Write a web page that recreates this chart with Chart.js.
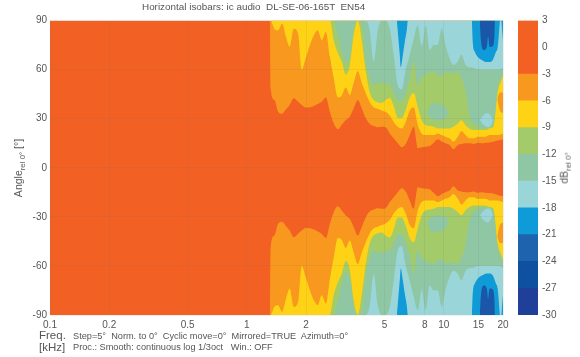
<!DOCTYPE html>
<html lang="en">
<head>
<meta charset="UTF-8">
<title>Horizontal isobars</title>
<script src="https://cdn.jsdelivr.net/npm/chart.js"></script>
<style>
  body { margin: 0; background: #fff; font-family: "Liberation Sans", Arial, sans-serif; color: #555; }
  #wrap { position: relative; width: 580px; height: 357px; overflow: hidden; }
  canvas { position: absolute; top: 0; filter: blur(0.5px); }
  #isobars { left: 0; }
  #colorbar { left: 510px; }
  .txt { position: absolute; white-space: pre; line-height: 1; }
  .rot { transform: translate(-50%, -50%) rotate(-90deg); }
  sub { font-size: 75%; vertical-align: -3px; line-height: 0; }
</style>
</head>
<body>
<div id="wrap">
  <canvas id="isobars" width="580" height="357"></canvas>
  <canvas id="colorbar" width="70" height="357"></canvas>
  <div class="txt" style="left:142px;top:2px;font-size:9.9px">Horizontal isobars: ic audio  DL-SE-06-165T  EN54</div>
  <div class="txt rot" style="left:18px;top:168px;font-size:10.5px">Angle<sub>rel 0°</sub> [°]</div>
  <div class="txt rot" style="left:564px;top:168px;font-size:10.5px">dB<sub>rel 0°</sub></div>
  <div class="txt" style="left:39px;top:330px;font-size:11.5px">Freq.</div>
  <div class="txt" style="left:39px;top:342px;font-size:11.5px">[kHz]</div>
  <div class="txt" style="left:73px;top:332px;font-size:9.2px">Step=5°  Norm. to 0°  Cyclic move=0°  Mirrored=TRUE  Azimuth=0°</div>
  <div class="txt" style="left:73px;top:343px;font-size:9.2px">Proc.: Smooth: continuous log 1/3oct   Win.: OFF</div>
</div>

<script>
  // tick labels
  const freqTicks = [0.1, 0.2, 0.5, 1, 2, 5, 8, 10, 15, 20];
  const levels = [-30, -27, -24, -21, -18, -15, -12, -9, -6, -3, 3];
  const bandColors = ["#1F3F98", "#1050A0", "#1E63AE", "#0F9BD7", "#9AD5DA", "#8FC7A5", "#A3CB6A", "#FFD315", "#F8981F", "#F26024"];

  // kHz, the contour edges below are read at these frequencies
  const freqs = [
    1.31, 1.32, 1.38, 1.44, 1.51, 1.58, 1.65, 1.73, 1.82, 1.90,
    1.99, 2.09, 2.19, 2.29, 2.40, 2.52, 2.64, 2.76, 2.90, 3.03,
    3.18, 3.33, 3.49, 3.66, 3.83, 4.02, 4.21, 4.41, 4.62, 4.84,
    5.07, 5.32, 5.57, 5.84, 6.12, 6.41, 6.72, 7.04, 7.38, 7.73,
    8.10, 8.49, 8.89, 9.32, 9.77, 10.2, 10.7, 11.2, 11.8, 12.3,
    12.9, 13.5, 14.2, 14.9, 15.6, 16.3, 17.1, 17.9, 18.8, 20
  ];

  // angle where each level starts (90 = not reached at that frequency)
  const edge3 = [
    90, 48.6, 41.4, 34.3, 33, 35.7, 38.4, 42.5, 40.4, 38.4,
    36.8, 37, 37.8, 39, 40.4, 43, 34.3, 27.2, 23.5, 26.1,
    29.2, 31.2, 36.3, 41.4, 36.3, 30.2, 26.8, 25.5, 24.7, 25.1,
    24.7, 21, 18, 14.9, 12.5, 14.5, 20, 25.1, 11.9, 12.5,
    12.9, 13.3, 15.3, 17.4, 16, 14.9, 13.9, 11.3, 13.9, 14.5,
    14.9, 14.9, 14.5, 15.3, 14.9, 15.3, 15.5, 15.9, 16.6, 17.4
  ];
  const edge6 = [
    90, 90, 85, 84, 88, 80, 74, 85, 82, 60,
    67, 75, 81, 84, 78, 83, 68, 55, 43, 44,
    49, 44.5, 52, 59, 52, 45.5, 40, 37, 36, 35,
    34, 32, 28, 25, 24, 28, 35, 37, 26, 21,
    20, 20, 20, 21, 20, 19, 18, 16, 19, 22.5,
    20, 18, 18, 19, 19, 19, 20, 20, 20, 21
  ];
  const edge9 = [
    90, 90, 90, 90, 90, 90, 90, 90, 90, 90,
    90, 90, 90, 90, 90, 90, 90, 78, 70, 65,
    57, 62, 81, 90, 78, 58.5, 46, 41.4, 40, 39.5,
    41.4, 42.6, 37.7, 30.4, 30.4, 35.3, 43, 45.7, 37, 29,
    26, 25.5, 25, 24, 24, 24, 24, 25, 27, 29,
    26, 24, 23, 23, 23, 23, 24, 25, 46, 56
  ];
  const edge12 = [
    90, 90, 90, 90, 90, 90, 90, 90, 90, 90,
    90, 90, 90, 90, 90, 90, 90, 90, 81, 72,
    64, 68, 85, 90, 88, 66, 55, 50.6, 52, 52,
    51, 51, 46, 41, 41, 46, 53.6, 64.6, 50.6, 55,
    57, 58.5, 58.5, 57, 56, 58.5, 58, 58, 58.5, 55,
    47.5, 32, 26.7, 25.5, 24.3, 24.3, 25, 27, 49, 58
  ];
  const edge15 = [
    90, 90, 90, 90, 90, 90, 90, 90, 90, 90,
    90, 90, 90, 90, 90, 90, 90, 90, 90, 90,
    90, 90, 90, 90, 90, 90, 84, 65, 84, 90,
    90, 85, 69, 50.6, 48, 60, 69, 79, 87, 74.5,
    87, 72, 75, 75, 85, 75, 67, 63, 65, 69,
    63, 61.5, 61, 60, 60, 60, 60, 60, 60, 61
  ];

  // patches that reach the top edge, [freq, angle]
  const blueAFreqs = [5.78, 5.88, 5.98, 6.05, 6.20, 6.34, 6.49, 6.57];
  const blueAEdge = [90, 79.3, 68.9, 61.6, 68.9, 76.9, 84.2, 90];
  const blueBFreqs = [13.9, 14.05, 14.4, 14.9, 15.6, 16.55, 17.1, 17.75, 18.4, 18.8, 19.3];
  const blueBEdge = [90, 76.2, 70.7, 67.7, 65.9, 64.6, 64.6, 65.9, 70.7, 73.8, 90];
  const blueCFreqs = [19.6, 20];
  const blueCEdge = [90, 78];
  const darkFreqs = [15.25, 15.45, 15.98, 16.55, 16.8, 17.1, 17.75, 18.1, 18.2];
  const darkEdge = [90, 78, 72, 73.8, 80, 73.8, 74.4, 81.1, 90];

  // closed patches, upper and lower edge
  const tealFreqs = [8.2, 8.6, 9.12, 9.66, 10.25, 10.6];
  const tealUpper = [33.5, 38.4, 39.6, 39, 36.5, 33.5];
  const tealLower = [33.5, 30.4, 29.2, 29.2, 30.4, 33.5];
  const cyanFreqs = [15.25, 15.98, 16.75, 17.55, 17.75];
  const cyanUpper = [29.2, 32.2, 33.5, 30.4, 29.2];
  const cyanLower = [29.2, 26.1, 24.9, 26.7, 29.2];
  const sideFreqs = [18.7, 19.3, 20];
  const sideUpper = [42, 46, 46];
  const sideLower = [42, 35, 33.4];

  const pts = (xs, ys) => xs.map((x, i) => ({ x: x, y: ys[i] }));
  const flip = ys => ys.map(v => -v);

  const datasets = [];
  function addLine(xs, ys, color, fill) {
    datasets.push({
      data: pts(xs, ys),
      showLine: true,
      cubicInterpolationMode: "monotone",
      pointRadius: 0,
      borderWidth: 0,
      backgroundColor: color,
      fill: fill
    });
  }
  function addEdge(xs, ys, color) {
    addLine(xs, ys, color, "end");
    addLine(xs, flip(ys), color, "start");
  }
  function addPatch(xs, upper, lower, color) {
    addLine(xs, upper, color, "+1");
    addLine(xs, lower, color, false);
    addLine(xs, flip(lower), color, "+1");
    addLine(xs, flip(upper), color, false);
  }

  addLine([0.1, 20], [90, 90], bandColors[9], "start");
  addEdge(freqs, edge3, bandColors[8]);
  addEdge(freqs, edge6, bandColors[7]);
  addEdge(freqs, edge9, bandColors[6]);
  addEdge(freqs, edge12, bandColors[5]);
  addEdge(freqs, edge15, bandColors[4]);
  addPatch(tealFreqs, tealUpper, tealLower, bandColors[5]);
  addPatch(cyanFreqs, cyanUpper, cyanLower, bandColors[4]);
  addPatch(sideFreqs, sideUpper, sideLower, bandColors[8]);
  addEdge(blueAFreqs, blueAEdge, bandColors[3]);
  addEdge(blueBFreqs, blueBEdge, bandColors[3]);
  addEdge(blueCFreqs, blueCEdge, bandColors[3]);
  addEdge(darkFreqs, darkEdge, "#1B57A8");

  // chart.js paints low order last, so later layers get the lower order
  datasets.forEach((d, i) => { d.order = 100 - i; });

  const tickFont = { family: "'Liberation Sans', Arial, sans-serif", size: 10 };
  const gridColor = "rgba(110,110,110,0.11)";

  new Chart(document.getElementById("isobars"), {
    type: "scatter",
    data: { datasets: datasets },
    options: {
      responsive: false,
      animation: false,
      events: [],
      layout: { padding: { left: 0, right: 77, top: 20.5, bottom: 0 } },
      plugins: { legend: { display: false }, tooltip: { enabled: false } },
      scales: {
        x: {
          type: "logarithmic",
          min: 0.1,
          max: 20,
          afterBuildTicks: s => { s.ticks = freqTicks.map(v => ({ value: v })); },
          afterFit: s => { s.height = 42; },
          grid: { color: gridColor, z: 1, drawTicks: false },
          border: { display: false },
          ticks: { autoSkip: false, maxRotation: 0, padding: 4, color: "#555", font: tickFont, callback: v => String(v) }
        },
        y: {
          min: -90,
          max: 90,
          afterFit: s => { s.width = 50; },
          grid: { color: gridColor, z: 1, drawTicks: false },
          border: { display: false },
          ticks: { stepSize: 30, padding: 3, color: "#555", font: tickFont }
        }
      }
    }
  });

  new Chart(document.getElementById("colorbar"), {
    type: "bar",
    data: {
      labels: ["dB"],
      datasets: bandColors.map((c, i) => ({
        data: [[levels[i], levels[i + 1]]],
        backgroundColor: c,
        grouped: false,
        barPercentage: 1,
        categoryPercentage: 1
      }))
    },
    options: {
      responsive: false,
      animation: false,
      events: [],
      layout: { padding: { left: 8, right: 0, top: 20.5, bottom: 42 } },
      plugins: { legend: { display: false }, tooltip: { enabled: false } },
      scales: {
        x: { display: false },
        y: {
          position: "right",
          min: -30,
          max: 3,
          afterFit: s => { s.width = 42; },
          grid: { drawOnChartArea: false, drawTicks: false },
          border: { display: false },
          ticks: { stepSize: 3, padding: 4, color: "#555", font: tickFont }
        }
      }
    }
  });
</script>
</body>
</html>
